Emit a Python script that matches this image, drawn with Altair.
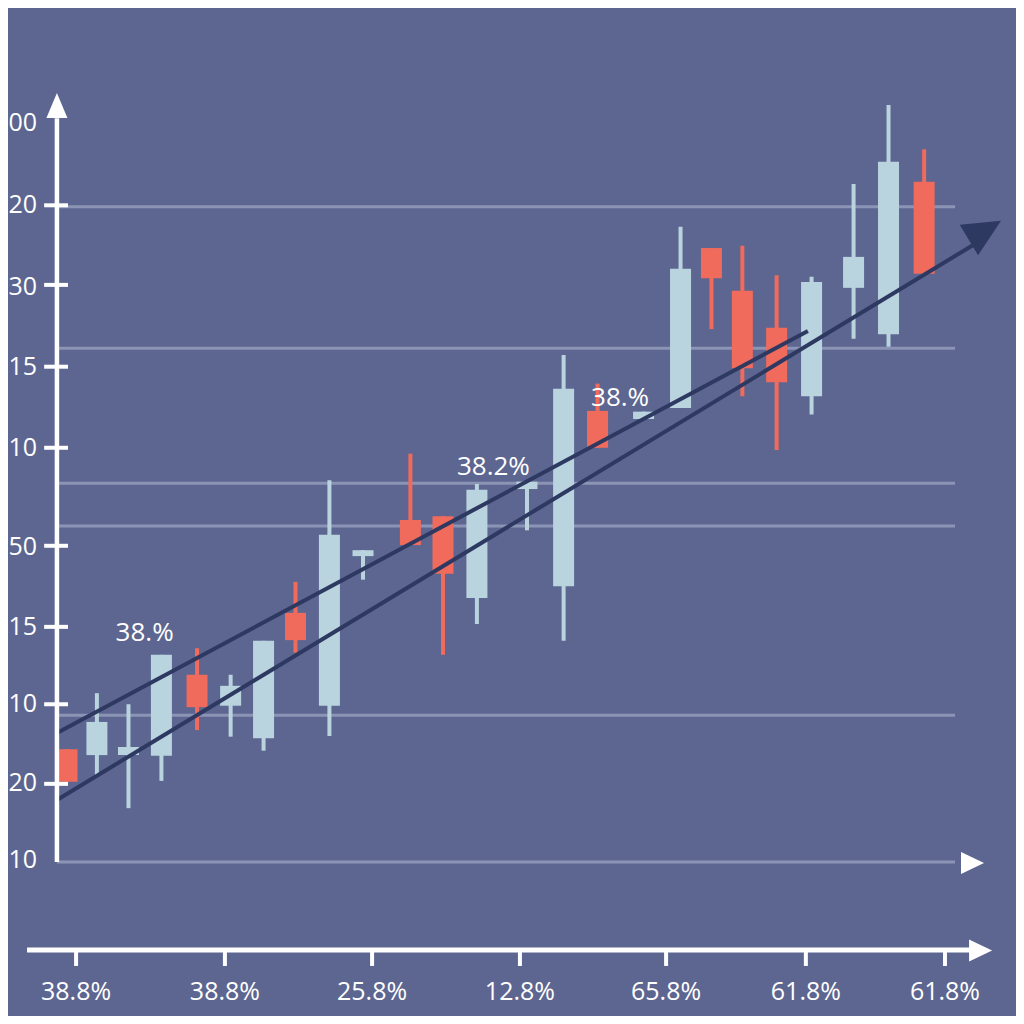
import altair as alt
import pandas as pd

# ---------------- data ----------------
# candle positions (trading-day units) and OHLC values (price units)
candle_x = [0.0, 0.89, 1.83, 2.81, 3.87, 4.87, 5.85, 6.80, 7.81, 8.81, 10.22, 11.19, 12.20,
            13.69, 14.78, 15.79, 17.16, 18.26, 19.18, 20.10, 21.12, 22.16, 23.41, 24.45, 25.51]
opens  = [15.3, 14.5, 14.5, 14.4, 25.4, 21.2, 16.8, 33.8, 21.2, 41.5, 46.4, 46.9, 35.8,
          50.6, 37.4, 61.2, 60.1, 61.6, 83.3, 77.5, 72.5, 63.2, 77.9, 71.6, 92.3]
closes = [10.9, 19.0, 15.6, 28.1, 21.0, 23.9, 30.0, 30.1, 44.4, 42.3, 43.0, 39.1, 50.5,
          51.6, 64.2, 56.2, 61.1, 80.5, 79.2, 67.0, 65.1, 78.7, 82.1, 95.0, 79.8]
highs  = [15.3, 22.9, 21.4, 28.1, 29.0, 25.4, 30.0, 38.0, 51.8, 42.3, 55.4, 46.9, 51.3,
          51.6, 68.8, 64.9, 61.1, 86.2, 83.3, 83.6, 79.6, 79.4, 92.0, 102.7, 96.7]
lows   = [10.9, 11.8, 7.3, 11.0, 17.9, 17.0, 15.1, 28.4, 17.1, 38.3, 43.0, 28.1, 32.3,
          45.0, 30.0, 56.2, 60.1, 61.6, 72.3, 63.2, 55.9, 60.7, 71.0, 69.9, 79.8]

# horizontal level lines (price)
grid_levels = [88.9, 69.7, 51.4, 45.6, 19.9, 0.0]

# y-axis ticks and labels (as drawn)
ytick_values = [89.1, 78.3, 67.2, 56.2, 42.9, 31.9, 21.4, 10.6]
ylabel_values = [100.3, 89.1, 78.0, 67.2, 56.2, 42.7, 31.9, 21.5, 10.7, 0.3]
ylabel_texts = ["00", "20", "30", "15", "10", "50", "15", "10", "20", "10"]

# bottom axis ticks and labels
xtick_values = [0.27, 4.70, 9.08, 13.48, 17.83, 21.99, 26.13]
xtick_texts = ["38.8%", "38.8%", "25.8%", "12.8%", "65.8%", "61.8%", "61.8%"]

# trend lines (two channel lines)
trend_id = ["upper", "upper", "lower", "lower"]
trend_x = [-0.30, 22.05, -0.30, 27.02]
trend_y = [17.50, 72.05, 8.41, 83.85]

# annotations
note_texts = ["38.%", "38.2%", "38.%"]
note_x = [2.31, 12.69, 16.46]
note_y = [31.0, 53.6, 62.96]

# ---------------- styling ----------------
BG = "#5d6690"
LIGHT = "#b9d4df"
RED = "#f06b5c"
GRID = "#8c94b5"
NAVY = "#2e3962"
WHITE = "#ffffff"
FONT = "Open Sans"

W = H = 1008
xs = alt.Scale(domain=[-1.756, 28.244], nice=False, zero=False, padding=0)
ys = alt.Scale(domain=[-20.90, 115.87], nice=False, zero=False, padding=0)


def X(f):
    return alt.X(f, type="quantitative", scale=xs, axis=None)


def Y(f):
    return alt.Y(f, type="quantitative", scale=ys, axis=None)


candles = pd.DataFrame({"x": candle_x, "open": opens, "close": closes,
                        "high": highs, "low": lows})
candles["dir"] = ["down" if c < o else "up" for o, c in zip(opens, closes)]
color = alt.Color("dir:N", scale=alt.Scale(domain=["up", "down"], range=[LIGHT, RED]),
                  legend=None)

grid_df = pd.DataFrame({"level": grid_levels, "x0": -0.30, "x1": 26.43})
grid = alt.Chart(grid_df).mark_rule(color=GRID, strokeWidth=3).encode(
    x=X("x0"), x2="x1", y=Y("level"))

wicks = alt.Chart(candles).mark_rule(strokeWidth=4).encode(
    x=X("x"), y=Y("low"), y2="high", color=color)
bodies = alt.Chart(candles).mark_bar(size=21).encode(
    x=X("x"), y=Y("open"), y2="close", color=color)

trend_df = pd.DataFrame({"id": trend_id, "x": trend_x, "y": trend_y})
trend = alt.Chart(trend_df).mark_line(color=NAVY, strokeWidth=4).encode(
    x=X("x"), y=Y("y"), detail="id:N")

head_df = pd.DataFrame({"x": [27.32], "y": [85.70]})
head = alt.Chart(head_df).mark_point(
    shape="M0,-1L0.95,1L-0.95,1Z", filled=True, opacity=1, size=1406, angle=59,
    color=NAVY, strokeWidth=0).encode(x=X("x"), y=Y("y"))

# y axis
yaxis_df = pd.DataFrame({"x": [-0.30], "y0": [0.0], "y1": [100.9]})
yaxis = alt.Chart(yaxis_df).mark_rule(color=WHITE, strokeWidth=4.5).encode(
    x=X("x"), y=Y("y0"), y2="y1")
yarrow_df = pd.DataFrame({"x": [-0.30], "y": [102.65]})
yarrow = alt.Chart(yarrow_df).mark_point(
    shape="M0,-1L0.84,1L-0.84,1Z", filled=True, opacity=1, size=625,
    color=WHITE, strokeWidth=0).encode(x=X("x"), y=Y("y"))
ytick_df = pd.DataFrame({"y": ytick_values, "x0": -0.68, "x1": 0.03})
yticks = alt.Chart(ytick_df).mark_rule(color=WHITE, strokeWidth=4).encode(
    x=X("x0"), x2="x1", y=Y("y"))
ylab_df = pd.DataFrame({"y": ylabel_values, "t": ylabel_texts, "x": -0.89})
ylabels = alt.Chart(ylab_df).mark_text(
    align="right", baseline="middle", font=FONT, fontSize=25, color=WHITE).encode(
    x=X("x"), y=Y("y"), text="t:N")

# plot-bottom arrow and the lower axis
rarrow_df = pd.DataFrame({"x": [26.95, 27.19], "y": [-0.14, -12.01]})
rarrows = alt.Chart(rarrow_df).mark_point(
    shape="M1,0L-1,-0.96L-1,0.96Z", filled=True, opacity=1, size=529,
    color=WHITE, strokeWidth=0).encode(x=X("x"), y=Y("y"))
xaxis_df = pd.DataFrame({"x0": [-1.19], "x1": [27.02], "y": [-11.94]})
xaxis = alt.Chart(xaxis_df).mark_rule(color=WHITE, strokeWidth=5).encode(
    x=X("x0"), x2="x1", y=Y("y"))
xtick_df = pd.DataFrame({"x": xtick_values, "y0": -11.94, "y1": -14.11})
xticks = alt.Chart(xtick_df).mark_rule(color=WHITE, strokeWidth=4).encode(
    x=X("x"), y=Y("y0"), y2="y1")
xlab_df = pd.DataFrame({"x": xtick_values, "t": xtick_texts, "y": -17.64})
xlabels = alt.Chart(xlab_df).mark_text(
    align="center", baseline="middle", font=FONT, fontSize=25, color=WHITE).encode(
    x=X("x"), y=Y("y"), text="t:N")

notes_df = pd.DataFrame({"x": note_x, "y": note_y, "t": note_texts})
notes = alt.Chart(notes_df).mark_text(
    align="center", baseline="middle", font=FONT, fontSize=26, color=WHITE).encode(
    x=X("x"), y=Y("y"), text="t:N")

chart = alt.layer(
    grid, wicks, bodies, trend, head, yaxis, yarrow, yticks, ylabels,
    rarrows, xaxis, xticks, xlabels, notes
).properties(
    width=W, height=H, background=BG, padding=0,
    autosize=alt.AutoSizeParams(type="none")
).configure_view(strokeWidth=0)

chart.save("out.html", embed_options={"renderer": "svg", "actions": False})
